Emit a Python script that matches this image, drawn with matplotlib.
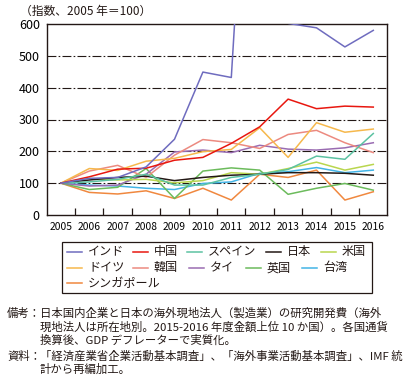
import matplotlib
matplotlib.use("Agg")
import matplotlib.pyplot as plt
from matplotlib.lines import Line2D
from matplotlib.patches import Rectangle

plt.rcParams['font.family'] = ['Noto Sans CJK JP', 'DejaVu Sans']

years = [2005, 2006, 2007, 2008, 2009, 2010, 2011, 2012, 2013, 2014, 2015, 2016]

india = [100, 115, 118, 151, 238, 449, 432, 1900, 602, 588, 528, 580]
china = [100, 120, 144, 147, 172, 181, 225, 277, 364, 334, 342, 339]
spain = [100, 104, 112, 128, 94, 94, 118, 128, 143, 185, 175, 256]
japan = [100, 110, 118, 122, 108, 118, 125, 128, 133, 133, 131, 125]
usa = [100, 115, 110, 112, 101, 108, 133, 128, 146, 166, 141, 159]
germany = [100, 146, 140, 169, 178, 199, 206, 274, 181, 290, 260, 270]
korea = [100, 138, 156, 118, 188, 237, 227, 209, 253, 266, 227, 196]
thailand = [100, 91, 94, 128, 198, 204, 196, 219, 207, 204, 211, 227]
uk = [100, 80, 87, 146, 52, 138, 148, 141, 65, 84, 99, 78]
taiwan = [100, 94, 91, 84, 80, 99, 104, 131, 136, 149, 133, 141]
singapore = [100, 71, 66, 76, 52, 84, 47, 128, 118, 141, 47, 73]

names = ['インド', '中国', 'スペイン', '日本', '米国',
         'ドイツ', '韓国', 'タイ', '英国', '台湾', 'シンガポール']
series = [india, china, spain, japan, usa,
          germany, korea, thailand, uk, taiwan, singapore]
colors = ['#6f6cbf', '#e8170f', '#5cc2a2', '#231815', '#b9d64e',
          '#f6b84c', '#ec8a80', '#9a6cb2', '#6cbb5c', '#42b4e6', '#f0883f']

W, H = 410, 379
fig = plt.figure(figsize=(W / 100, H / 100), dpi=100)

def fx(px):
    return px / W

def fy(py):
    return 1 - py / H

ax = fig.add_axes([fx(46.7), fy(215), fx(387.5) - fx(46.7), fy(24) - fy(215)])

x = list(range(len(years)))
# draw back to front, india last so it sits on top
order = [10, 9, 8, 7, 6, 5, 4, 3, 2, 1, 0]
for i in order:
    ax.plot(x, series[i], color=colors[i], lw=1.1, zorder=3 + (10 - i) * 0.01)

ax.set_xlim(-0.5, 11.5)
ax.set_ylim(0, 600)
ax.set_yticks([0, 100, 200, 300, 400, 500, 600])
ax.tick_params(axis='y', length=0, pad=5, labelsize=9)
ax.set_xticks(x)
ax.set_xticklabels([str(y) for y in years])
ax.tick_params(axis='x', which='major', length=0, pad=5, labelsize=7.4)
ax.set_xticks([i + 0.5 for i in range(11)], minor=True)
ax.tick_params(axis='x', which='minor', direction='in', length=5, width=0.9, color='#231815')
for v in [100, 200, 300, 400, 500]:
    ax.axhline(v, color='#231815', lw=0.8, ls=(0, (8, 2, 1.5, 2)), zorder=1)
for s in ax.spines.values():
    s.set_linewidth(1.0)
    s.set_color('#231815')

fig.text(fx(20), fy(11), '（指数、2005 年＝100）', fontsize=8.5, va='center', ha='left', color='#231815')

# legend box, laid out like the original (flow layout)
fig.patches.append(Rectangle((fx(62), fy(292.5)), fx(372.5) - fx(62), fy(241.5) - fy(292.5),
                             transform=fig.transFigure, fill=False, ec='#231815', lw=0.9))
leg_pos = [(67, 251.7), (133, 251.7), (187, 251.7), (266, 251.7), (321, 251.7),
           (67, 267.7), (133, 267.7), (189, 267.7), (246, 267.7), (302, 267.7),
           (67, 283.3)]
for i, (px, py) in enumerate(leg_pos):
    fig.lines.append(Line2D([fx(px), fx(px + 15)], [fy(py), fy(py)], transform=fig.transFigure,
                            color=colors[i], lw=1.1))
    fig.text(fx(px + 21), fy(py), names[i], fontsize=8.7, va='center', ha='left', color='#231815')

note_lines = [
    (7, 313.3, '備考：'),
    (40, 313.3, '日本国内企業と日本の海外現地法人（製造業）の研究開発費（海外'),
    (40, 326.7, '現地法人は所在地別。2015-2016 年度金額上位 10 か国）。各国通貨'),
    (40, 340.0, '換算後、GDP デフレーターで実質化。'),
    (7, 356.0, '資料：'),
    (40, 356.0, '「経済産業省企業活動基本調査」、「海外事業活動基本調査」、IMF 統'),
    (40, 369.3, '計から再編加工。'),
]
for px, py, t in note_lines:
    fig.text(fx(px), fy(py), t, fontsize=8.2, va='center', ha='left', color='#231815')

fig.savefig('out.png', dpi=100)
